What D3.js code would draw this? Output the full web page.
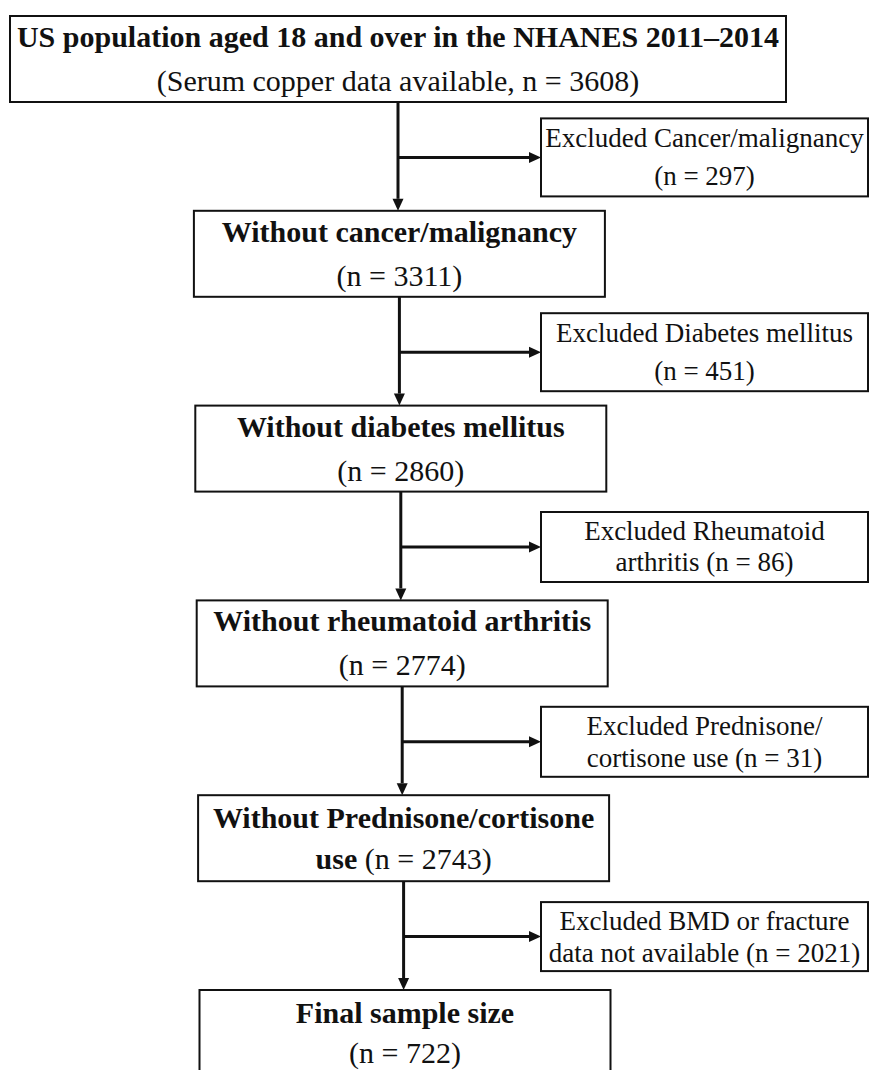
<!DOCTYPE html>
<html>
<head>
<meta charset="utf-8">
<script src="https://cdn.jsdelivr.net/npm/d3@7"></script>
<style>
body { margin: 0; background: #fff; }
svg { display: block; font-family: "Liberation Serif", "Times New Roman", serif; }
</style>
</head>
<body>
<script>
// flow steps (main column)
const stepLabels = [
    "US population aged 18 and over in the NHANES 2011–2014",
    "Without cancer/malignancy",
    "Without diabetes mellitus",
    "Without rheumatoid arthritis",
    "Without Prednisone/cortisone use",
    "Final sample size"
];
const stepNotes = ["Serum copper data available, ", "", "", "", "", ""];
const stepCounts = [3608, 3311, 2860, 2774, 2743, 722];

// exclusions (right column)
const exclLabels = [
    "Cancer/malignancy",
    "Diabetes mellitus",
    "Rheumatoid arthritis",
    "Prednisone/cortisone use",
    "BMD or fracture data not available"
];
const exclCounts = [297, 451, 86, 31, 2021];

const width = 869, height = 1070;
const ink = "#111";
const mainSize = 30, exSize = 27;
const boxH = 86, boxW = 411, topW = 776;
const exLeft = 541, exRight = 868;
const exH = [78, 78, 70, 70, 69];
const exLead = [38, 38, 31, 32, 32];
const mainLead = [44, 44, 44, 44, 41, 40];

const svg = d3.select("body").append("svg")
    .attr("width", width)
    .attr("height", height);

const y = d3.scaleLinear().domain([0, stepLabels.length - 1]).range([16, 990]);
const cx = d3.scaleLinear().domain([0, stepLabels.length - 1]).range([398, 405]);

// --- text helpers ---
const probe = svg.append("text").attr("visibility", "hidden").style("white-space", "pre");

function tokenize(str, bold) {
    const out = [];
    str.split(" ").filter(w => w.length).forEach((w, i) => {
        w.split(/(?<=\/)/).forEach((p, j) => out.push({ text: p, bold, space: j === 0 && i > 0 }));
    });
    return out;
}

function segments(line) {
    const segs = [];
    line.forEach((t, i) => {
        const txt = (i > 0 && t.space ? " " : "") + t.text;
        const last = segs[segs.length - 1];
        if (last && last.bold === t.bold) last.text += txt;
        else segs.push({ text: txt, bold: t.bold });
    });
    return segs;
}

function measure(line, size) {
    probe.selectAll("*").remove();
    probe.attr("font-size", size);
    segments(line).forEach(s => probe.append("tspan").attr("font-weight", s.bold ? "bold" : "normal").text(s.text));
    return probe.node().getComputedTextLength();
}

function wrap(toks, maxW, size) {
    const lines = [];
    let cur = [];
    toks.forEach(t => {
        const trial = cur.concat([t]);
        if (cur.length && measure(trial, size) > maxW) {
            lines.push(cur);
            cur = [t];
        } else cur = trial;
    });
    if (cur.length) lines.push(cur);
    return lines;
}

function drawLines(g, lines, x, midY, lead, size) {
    lines.forEach((line, i) => {
        const t = g.append("text")
            .attr("x", x)
            .attr("y", midY + (i - (lines.length - 1) / 2) * lead + size * 0.33)
            .attr("text-anchor", "middle")
            .attr("font-size", size)
            .attr("fill", ink)
            .style("white-space", "pre");
        segments(line).forEach(s => t.append("tspan").attr("font-weight", s.bold ? "bold" : "normal").text(s.text));
    });
}

function arrow(x1, y1, x2, y2) {
    const ang = Math.atan2(y2 - y1, x2 - x1);
    const len = 12, half = 5.5;
    const bx = x2 - len * Math.cos(ang), by = y2 - len * Math.sin(ang);
    svg.append("line")
        .attr("x1", x1).attr("y1", y1).attr("x2", bx).attr("y2", by)
        .attr("stroke", ink).attr("stroke-width", 3);
    const px = -Math.sin(ang) * half, py = Math.cos(ang) * half;
    svg.append("path")
        .attr("d", `M${x2},${y2}L${bx + px},${by + py}L${bx - px},${by - py}Z`)
        .attr("fill", ink);
}

// --- connectors ---
exclLabels.forEach((d, i) => {
    const top = y(i) + boxH, next = y(i + 1);
    const mid = (top + next) / 2 + 1;
    const x = cx(i);
    arrow(x, top, x, next);
    arrow(x, mid, exLeft, mid);
});

// --- main boxes ---
stepLabels.forEach((label, i) => {
    const w = i === 0 ? topW : boxW;
    const g = svg.append("g");
    g.append("rect")
        .attr("x", cx(i) - w / 2).attr("y", y(i))
        .attr("width", w).attr("height", boxH)
        .attr("fill", "#fff").attr("stroke", ink).attr("stroke-width", 2);

    const maxW = w - 6;
    const lines = wrap(tokenize(label, true), maxW, mainSize);
    const countToks = tokenize(`(${stepNotes[i]}n = ${stepCounts[i]})`, false);
    countToks[0].space = true;
    const last = lines[lines.length - 1];
    if (lines.length > 1 && measure(last.concat(countToks), mainSize) <= maxW) {
        lines[lines.length - 1] = last.concat(countToks);
    } else {
        lines.push(countToks);
    }
    drawLines(g, lines, cx(i), y(i) + boxH / 2, mainLead[i], mainSize);
});

// --- exclusion boxes ---
exclLabels.forEach((label, i) => {
    const mid = (y(i) + boxH + y(i + 1)) / 2 + 1;
    const h = exH[i];
    const g = svg.append("g");
    g.append("rect")
        .attr("x", exLeft).attr("y", mid - h / 2)
        .attr("width", exRight - exLeft).attr("height", h)
        .attr("fill", "#fff").attr("stroke", ink).attr("stroke-width", 2);
    const toks = tokenize(`Excluded ${label} (n = ${exclCounts[i]})`, false);
    const lines = wrap(toks, exRight - exLeft - 3, exSize);
    drawLines(g, lines, (exLeft + exRight) / 2, mid, exLead[i], exSize);
});

probe.remove();
</script>
</body>
</html>
